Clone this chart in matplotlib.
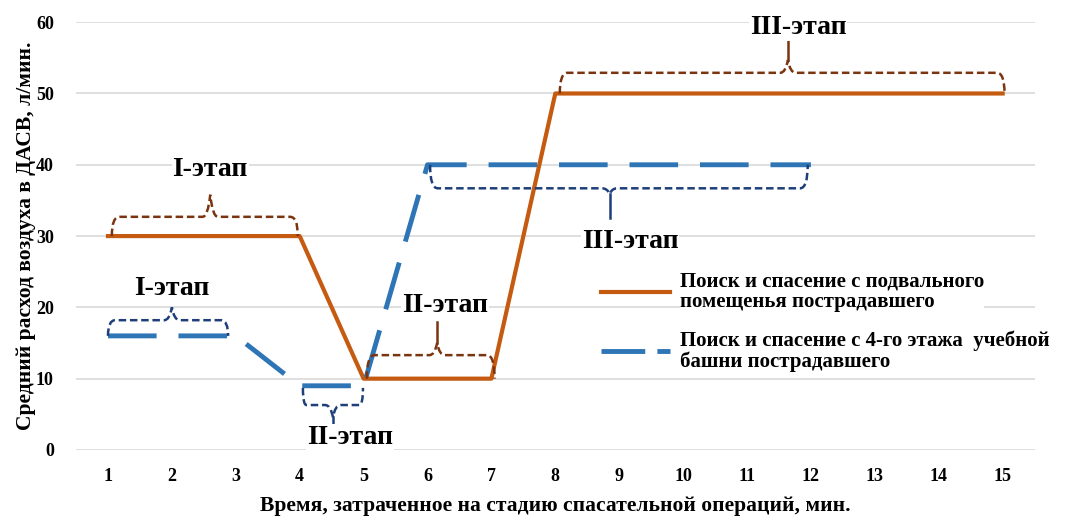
import matplotlib
matplotlib.use("Agg")
import matplotlib.pyplot as plt
from matplotlib.path import Path
from matplotlib.patches import PathPatch
from matplotlib.lines import Line2D

plt.rcParams['font.family'] = ['Liberation Serif', 'DejaVu Serif']
plt.rcParams['font.weight'] = 'bold'

# данные
minutes = list(range(1, 16))
basement = [30, 30, 30, 30, 10, 10, 10, 50, 50, 50, 50, 50, 50, 50, 50]
tower_x = list(range(1, 13))
tower = [16, 16, 16, 9, 9, 40, 40, 40, 40, 40, 40, 40]
y_ticks = [0, 10, 20, 30, 40, 50, 60]

label_basement = "Поиск и спасение с подвального\nпомещенья пострадавшего"
label_tower = "Поиск и спасение с 4-го этажа  учебной\nбашни пострадавшего"

# фигурные скобки: (x0, x1, xc, база, уровень скобки, острие, конец стержня)
braces_basement = [
    (1.06, 3.97, 2.6, 30, 32.7, 35.8, 35.8),
    (5.05, 7.05, 6.15, 10, 13.3, 15.0, 18.0),
    (8.07, 15.03, 11.64, 50, 52.9, 54.7, 57.5),
]
braces_tower = [
    (1.0, 2.88, 2.0, 16, 18.2, 20.0, 20.0),
    (4.05, 4.99, 4.52, 8.7, 6.3, 4.6, 2.2),
    (6.04, 11.95, 8.85, 40, 36.7, 35.9, 32.5),
]
stage_labels_basement = [("I-этап", 2.6, 39.3), ("II-этап", 6.27, 20.3), ("III-этап", 11.8, 59.2)]
stage_labels_tower = [("I-этап", 2.0, 22.7), ("II-этап", 4.79, 1.8), ("III-этап", 9.17, 29.2)]

ORANGE = '#C55A11'
BLUE = '#2E75B6'
BR_ORANGE = '#7A3510'
BR_BLUE = '#1F3F7A'


def draw_brace(ax, x0, x1, xc, y0, y1, y2, y3, color):
    r = 0.06 * (x1 - x0) if (x1 - x0) < 2 else 0.12
    d = 0.12
    verts = [
        (x0, y0), (x0, y1), (x0 + r, y1),
        (xc - d, y1),
        (xc - d * 0.3, y1), (xc, y2),
        (xc + d * 0.3, y1), (xc + d, y1),
        (x1 - r, y1),
        (x1, y1), (x1, y0),
    ]
    codes = [Path.MOVETO, Path.CURVE3, Path.CURVE3, Path.LINETO,
             Path.CURVE3, Path.CURVE3, Path.CURVE3, Path.CURVE3,
             Path.LINETO, Path.CURVE3, Path.CURVE3]
    ax.add_patch(PathPatch(Path(verts, codes), facecolor='none', edgecolor=color,
                           lw=1.8, linestyle=(0, (3, 1.5)), zorder=4))
    if y3 != y2:
        ax.plot([xc, xc], [y2, y3], color=color, lw=1.8, zorder=4)


fig = plt.figure(figsize=(10.71, 5.16), dpi=100)
ax = fig.add_axes([0.071, 0.128, 0.895, 0.829])

ax.plot(minutes, basement, color=ORANGE, lw=3, zorder=3, label=label_basement)
ax.plot(tower_x, tower, color=BLUE, lw=3.5, linestyle=(0, (10, 4.5)), zorder=3,
        label=label_tower)

for b in braces_basement:
    draw_brace(ax, *b, BR_ORANGE)
for b in braces_tower:
    draw_brace(ax, *b, BR_BLUE)

for txt, x, y in stage_labels_basement + stage_labels_tower:
    ax.text(x, y, txt, ha='center', va='center', fontsize=20, fontweight='bold',
            bbox=dict(facecolor='white', edgecolor='none', pad=0.5), zorder=5)

ax.set_xlim(0.5, 15.5)
ax.set_ylim(0, 60)
ax.set_xticks(minutes)
ax.set_yticks(y_ticks)
ax.tick_params(length=0, labelsize=13)
ax.tick_params(axis='x', pad=13)
ax.tick_params(axis='y', pad=16)
for lbl in ax.get_xticklabels() + ax.get_yticklabels():
    lbl.set_fontweight('bold')
ax.grid(axis='y', color='#D9D9D9', lw=1.2, zorder=0)
for s in ax.spines.values():
    s.set_visible(False)

ax.set_xlabel("Время, затраченное на стадию спасательной операций, мин.",
              fontsize=15.5, fontweight='bold', labelpad=8)
ax.set_ylabel("Средний расход воздуха в ДАСВ, л/мин.", fontsize=15.5,
              fontweight='bold', labelpad=0)

handles = [Line2D([], [], color=ORANGE, lw=3),
           Line2D([], [], color=BLUE, lw=3.5, linestyle=(0, (9, 2.5)))]
leg = ax.legend(handles, [label_basement, label_tower], loc='upper left',
                bbox_to_anchor=(0.528, 0.46), frameon=False, fontsize=15,
                handlelength=3.3, labelspacing=0.9, handletextpad=0.5)
for t in leg.get_texts():
    t.set_fontweight('bold')
    t.set_linespacing(1.0)
    t.set_bbox(dict(facecolor='white', edgecolor='none', pad=0))
leg.set_zorder(6)

fig.savefig("out.png", dpi=100)
